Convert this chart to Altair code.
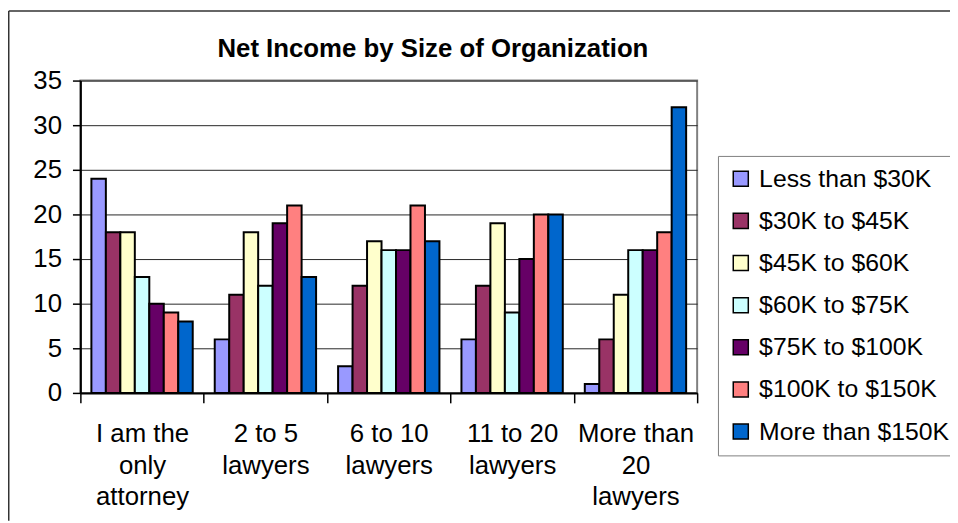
import altair as alt
import pandas as pd

TITLE = "Net Income by Size of Organization"

categories = [
    "I am the\nonly\nattorney",
    "2 to 5\nlawyers",
    "6 to 10\nlawyers",
    "11 to 20\nlawyers",
    "More than\n20\nlawyers",
]
series = [
    "Less than $30K",
    "$30K to $45K",
    "$45K to $60K",
    "$60K to $75K",
    "$75K to $100K",
    "$100K to $150K",
    "More than $150K",
]
colors = ["#9999FF", "#993366", "#FFFFCC", "#CCFFFF", "#660066", "#FF8080", "#0066CC"]

less_30k = [24, 6, 3, 6, 1]
k30_45 = [18, 11, 12, 12, 6]
k45_60 = [18, 18, 17, 19, 11]
k60_75 = [13, 12, 16, 9, 16]
k75_100 = [10, 19, 16, 15, 16]
k100_150 = [9, 21, 21, 20, 18]
more_150k = [8, 13, 17, 20, 32]

y_ticks = [0, 5, 10, 15, 20, 25, 30, 35]

all_values = [less_30k, k30_45, k45_60, k60_75, k75_100, k100_150, more_150k]
rows = []
for s, vals in zip(series, all_values):
    for c, v in zip(categories, vals):
        rows.append({"category": c, "series": s, "value": v})
df = pd.DataFrame(rows)

W, H = 622, 315
PAD_L, PAD_T = 73, 71
PAD_R = 950 - PAD_L - W
PAD_B = 515 - PAD_T - H

bars = alt.Chart(df).mark_bar(stroke="black", strokeWidth=2).encode(
    x=alt.X(
        "category:N",
        sort=categories,
        scale=alt.Scale(paddingInner=0, paddingOuter=0),
        axis=alt.Axis(
            title=None,
            labelAngle=0,
            labelExpr="isValid(datum.value) ? split(datum.value, '\\n') : ''",
            labelFontSize=26,
            labelLineHeight=32,
            labelBaseline="top",
            labelColor="black",
            labelPadding=18,
            tickBand="extent",
            tickSize=10,
            tickColor="black",
            tickWidth=1.5,
            domainColor="black",
            domainWidth=2,
            grid=False,
            labelLimit=200,
        ),
    ),
    xOffset=alt.XOffset(
        "series:N", sort=series,
        scale=alt.Scale(paddingInner=0, paddingOuter=0.76),
    ),
    y=alt.Y(
        "value:Q",
        scale=alt.Scale(domain=[0, 35], nice=False),
        axis=alt.Axis(
            title=None,
            values=y_ticks,
            labelFontSize=26,
            labelColor="black",
            labelPadding=11,
            tickSize=8,
            tickColor="black",
            tickWidth=1.5,
            domainColor="black",
            domainWidth=2,
            grid=True,
            gridColor="#262626",
            gridWidth=1,
        ),
    ),
    color=alt.Color(
        "series:N",
        sort=series,
        scale=alt.Scale(domain=series, range=colors),
        legend=alt.Legend(
            title=None,
            orient="none",
            legendX=724 - 81,
            legendY=155 - 79,
            strokeColor="#808080",
            fillColor="white",
            padding=10.5,
            rowPadding=16.5,
            symbolType="square",
            symbolSize=230,
            symbolStrokeColor="black",
            symbolStrokeWidth=1.5,
            symbolOpacity=1,
            labelFontSize=25,
            labelColor="black",
            labelOffset=6,
            labelLimit=320,
        ),
    ),
)

title_df = pd.DataFrame({"t": [TITLE]})
title = alt.Chart(title_df).mark_text(
    fontSize=26, fontWeight="bold", align="center", baseline="alphabetic", color="black"
).encode(text="t:N", x=alt.value(436.5 - 81), y=alt.value(55 - 79))

frame_top = alt.Chart(title_df).mark_rule(color="#333333", strokeWidth=1.5).encode(
    x=alt.value(-PAD_L + 0.75), x2=alt.value(W + PAD_R), y=alt.value(-PAD_T + 0.75)
)
frame_left = alt.Chart(title_df).mark_rule(color="#333333", strokeWidth=1.5).encode(
    x=alt.value(-PAD_L + 0.75), y=alt.value(-PAD_T + 0.75), y2=alt.value(H + PAD_B)
)

chart = alt.layer(bars, title, frame_top, frame_left).properties(
    width=W, height=H,
    autosize=alt.AutoSizeParams(type="none"),
    padding={"left": PAD_L, "top": PAD_T, "right": PAD_R, "bottom": PAD_B},
).configure(font="Liberation Sans").configure_view(
    stroke="#808080", strokeWidth=2
)

chart.save("out.html", embed_options={"renderer": "svg", "actions": False})
